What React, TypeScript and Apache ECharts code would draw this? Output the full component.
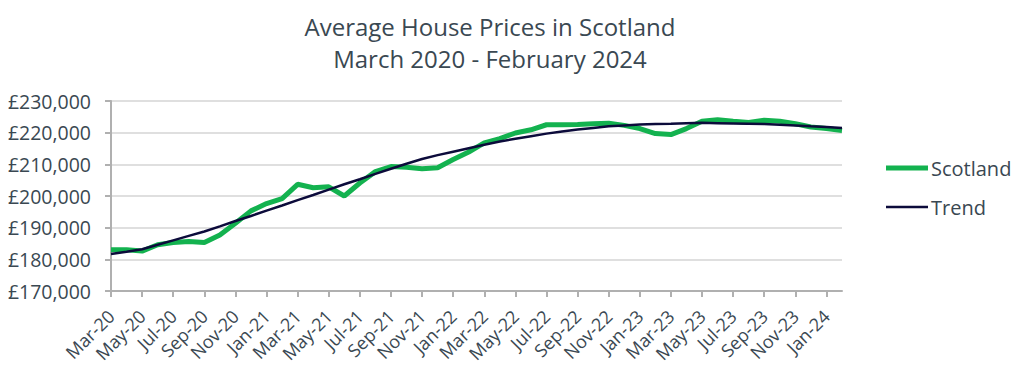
import React, { useEffect, useRef } from "react";
import * as echarts from "echarts";

const months = [
  "Mar-20","Apr-20","May-20","Jun-20","Jul-20","Aug-20","Sep-20","Oct-20","Nov-20","Dec-20",
  "Jan-21","Feb-21","Mar-21","Apr-21","May-21","Jun-21","Jul-21","Aug-21","Sep-21","Oct-21","Nov-21","Dec-21",
  "Jan-22","Feb-22","Mar-22","Apr-22","May-22","Jun-22","Jul-22","Aug-22","Sep-22","Oct-22","Nov-22","Dec-22",
  "Jan-23","Feb-23","Mar-23","Apr-23","May-23","Jun-23","Jul-23","Aug-23","Sep-23","Oct-23","Nov-23","Dec-23",
  "Jan-24","Feb-24",
];

const scotland = [
  183000, 183000, 182600, 184600, 185300, 185600, 185300, 187700, 191400, 195300,
  197600, 199200, 203700, 202600, 202900, 200000, 204100, 207700, 209300, 209100,
  208600, 208900, 211500, 213900, 216800, 218100, 219900, 220900, 222500, 222500,
  222600, 222800, 223000, 222300, 221300, 219700, 219400, 221300, 223600, 224100,
  223600, 223200, 223900, 223600, 222800, 221800, 221300, 220700,
];

const trend = [
  181700, 182400, 183200, 184600, 186000, 187400, 188800, 190400, 192100, 193700,
  195400, 197000, 198700, 200300, 202000, 203700, 205300, 207000, 208600, 210200,
  211700, 212900, 214000, 215100, 216200, 217200, 218100, 218900, 219700, 220400,
  221000, 221500, 222000, 222300, 222600, 222700, 222800, 223000, 223100, 223000,
  222900, 222800, 222700, 222500, 222300, 222000, 221800, 221500,
];

const titleLines = ["Average House Prices in Scotland", "March 2020 - February 2024"];

const TEXT = "#3a4852";
const FONT = "'Open Sans', 'Noto Sans', sans-serif";
const GREEN = "#13b24f";
const NAVY = "#0c0b3b";

export default function App() {
  const ref = useRef<HTMLDivElement>(null);
  useEffect(() => {
    if (!ref.current) return;
    document.body.style.margin = "0";
    const chart = echarts.init(ref.current, undefined, { renderer: "svg" });
    chart.setOption({
      animation: false,
      textStyle: { fontFamily: FONT },
      title: {
        text: titleLines.join("\n"),
        left: 485,
        top: 5,
        textAlign: "center",
        textStyle: { fontFamily: FONT, fontSize: 24, fontWeight: "normal", color: TEXT, lineHeight: 32 },
      },
      legend: {
        orient: "vertical",
        left: 881,
        top: 153,
        itemWidth: 42,
        itemHeight: 14,
        itemGap: 19,
        textStyle: { fontFamily: FONT, fontSize: 20, color: TEXT, lineHeight: 20, padding: [0, 0, 0, -2] },
        data: [
          { name: "Scotland", icon: "path://M0,0h42v5h-42z", itemStyle: { color: GREEN } },
          { name: "Trend", icon: "path://M0,0h42v2.6h-42z", itemStyle: { color: NAVY } },
        ],
      },
      grid: { left: 111, right: 184, top: 101, bottom: 94, containLabel: false },
      xAxis: {
        type: "category",
        data: months,
        boundaryGap: false,
        axisLine: { lineStyle: { color: "#b0b0b0", width: 2 } },
        axisTick: { interval: 1, length: 6, lineStyle: { color: "#b0b0b0", width: 2 } },
        axisLabel: { interval: 1, rotate: 45, fontSize: 18, color: TEXT, fontFamily: FONT, margin: 22 },
        splitLine: { show: false },
      },
      yAxis: {
        type: "value",
        min: 170000,
        max: 230000,
        interval: 10000,
        axisLine: { show: true, lineStyle: { color: "#b0b0b0", width: 2 } },
        axisTick: { show: true, length: 6, lineStyle: { color: "#b0b0b0", width: 2 } },
        axisLabel: {
          fontSize: 19.5,
          color: TEXT,
          fontFamily: FONT,
          margin: 20,
          formatter: (v: number) => "£" + v.toLocaleString("en-GB"),
        },
        splitLine: { lineStyle: { color: "#d4d4d4", width: 1.5 } },
      },
      series: [
        {
          name: "Scotland",
          type: "line",
          data: scotland,
          symbol: "none",
          lineStyle: { color: GREEN, width: 5 },
          itemStyle: { color: GREEN },
          z: 2,
        },
        {
          name: "Trend",
          type: "line",
          data: trend,
          symbol: "none",
          lineStyle: { color: NAVY, width: 2.5 },
          itemStyle: { color: NAVY },
          z: 3,
        },
      ],
    });
    return () => chart.dispose();
  }, []);
  return <div ref={ref} style={{ width: 1026, height: 385 }} />;
}
